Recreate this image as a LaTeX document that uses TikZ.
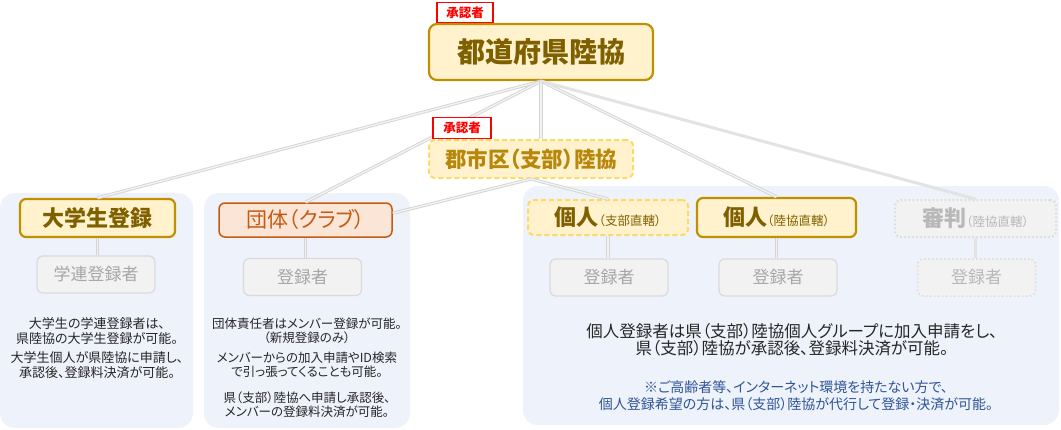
\documentclass[tikz,border=0pt]{standalone}
\usepackage{fontspec}
\setmainfont{Noto Sans CJK JP}[RawFeature=+palt]

\definecolor{goldline}{HTML}{BF9000}
\definecolor{goldfill}{HTML}{FFF2CC}
\definecolor{goldtext}{HTML}{7F6000}
\definecolor{dashgold}{HTML}{FFD966}
\definecolor{shibutext}{HTML}{B8860B}
\definecolor{orgline}{HTML}{C55A11}
\definecolor{orgfill}{HTML}{FBE5D6}
\definecolor{grayfill}{HTML}{F2F2F2}
\definecolor{grayline}{HTML}{DADADA}
\definecolor{graytext}{HTML}{A6A6A6}
\definecolor{panelbg}{HTML}{EEF2FA}
\definecolor{notetext}{HTML}{2F5597}
\definecolor{linkgray}{HTML}{D4D4D4}

\tikzset{
  unitbox/.style={rounded corners=6pt, align=center, inner sep=0pt},
  goldbox/.style={unitbox, draw=goldline, fill=goldfill, text=goldtext, line width=2.2pt},
  shibubox/.style={unitbox, draw=dashgold, fill=goldfill, dashed, dash pattern=on 5pt off 3pt, line width=2pt},
  clubbox/.style={unitbox, draw=orgline, fill=orgfill, text=orgline, line width=1.5pt},
  regbox/.style={unitbox, draw=grayline, fill=grayfill, text=graytext, line width=1.2pt,
    minimum width=118pt, minimum height=37pt, font=\fontsize{17}{20}\selectfont},
  judgebox/.style={unitbox, draw=grayline, fill=grayfill, text=graytext!80, line width=2pt,
    dash pattern=on 1.5pt off 2.5pt},
  redtag/.style={draw=red, line width=1.8pt, fill=white, text=red, inner sep=0pt,
    font=\fontsize{12.5}{14}\selectfont\bfseries},
  note/.style={align=center, inner sep=0pt, text=black!85},
  link/.style={draw=linkgray, line width=0.9pt, double=grayfill, double distance=1.4pt},
  plainlink/.style={draw=black!11, line width=3pt},
}

\newcommand{\sm}{\fontsize{12.5}{14}\selectfont}

\begin{document}
\begin{tikzpicture}[x=1pt, y=-1pt]
\useasboundingbox (0,0) rectangle (1061,429);

% panels
\fill[panelbg, rounded corners=15pt] (0,193) rectangle (193,428);
\fill[panelbg, rounded corners=15pt] (204,193) rectangle (410,428);
\fill[panelbg, rounded corners=15pt] (523,186) rectangle (1059,425);

% top
\node[goldbox, minimum width=224pt, minimum height=56pt, rounded corners=8pt,
      font=\fontsize{28}{32}\selectfont\bfseries] (kenriku) at (541,52) {都道府県陸協};
\node[shibubox, text=shibutext, minimum width=204pt, minimum height=38pt,
      font=\fontsize{21.5}{24}\selectfont\bfseries] (shibu) at (531,159) {郡市区（支部）陸協};

% units
\node[goldbox, minimum width=155pt, minimum height=38pt,
      font=\fontsize{22}{26}\selectfont\bfseries] (daigaku) at (97.5,218) {大学生登録};
\node[clubbox, minimum width=173pt, minimum height=34pt,
      font=\fontsize{21}{24}\selectfont] (dantai) at (305.5,220) {団体（クラブ）};
\node[shibubox, text=goldtext, minimum width=160pt, minimum height=35pt,
      font=\fontsize{22}{24}\selectfont\bfseries] (kojinS) at (608,217.5) {個人{\sm\mdseries（支部直轄）}};
\node[goldbox, minimum width=159pt, minimum height=39pt,
      font=\fontsize{22}{24}\selectfont\bfseries] (kojinR) at (776.5,217.5) {個人{\sm\mdseries（陸協直轄）}};
\node[judgebox, minimum width=161pt, minimum height=37pt,
      font=\fontsize{22}{24}\selectfont\bfseries] (shinpan) at (975.5,218.5) {審判{\sm\mdseries（陸協直轄）}};

% registrants
\node[regbox] (regA) at (96,274.5) {学連登録者};
\node[regbox] (regB) at (302.5,277) {登録者};
\node[regbox] (regC) at (609,277.5) {登録者};
\node[regbox] (regD) at (778,277.5) {登録者};
\node[regbox, judgebox, font=\fontsize{17}{20}\selectfont, line width=1.5pt] (regE) at (976.5,277.5) {登録者};

% links
\draw[link] (kenriku.south) -- (daigaku.north);
\draw[link] (kenriku.south) -- (dantai.north);
\draw[link] (kenriku.south) -- (kenriku.south |- shibu.north);
\draw[link] (kenriku.south) -- (kojinR.north);
\draw[plainlink] (kenriku.south) -- (shinpan.north);
\draw[link] (shibu.south) -- ([yshift=-11pt]dantai.north east);
\draw[link] (shibu.south) -- (kojinS.north);
\draw[link] (daigaku.south) -- (daigaku.south |- regA.north);
\draw[link] (dantai.south) -- (dantai.south |- regB.north);
\draw[link] (kojinS.south) -- (kojinS.south |- regC.north);
\draw[link] (kojinR.south) -- (kojinR.south |- regD.north);
\draw[plainlink, line width=2.5pt] (shinpan.south) -- (shinpan.south |- regE.north);

% approval tags
\node[redtag, minimum width=56pt, minimum height=20pt] (tagA) at (465,12.5) {承認者};
\node[redtag, minimum width=58pt, minimum height=21pt] (tagB) at (462,128) {承認者};

% texts
\node[note, font=\fontsize{13}{15}\selectfont] (txtA1) at (97,331)
  {大学生の学連登録者は、\\県陸協の大学生登録が可能。};
\node[note, font=\fontsize{13}{15}\selectfont] (txtA2) at (97,365)
  {大学生個人が県陸協に申請し、\\承認後、登録料決済が可能。};
\node[note, font=\fontsize{12.5}{14}\selectfont] (txtB1) at (307,330.5)
  {団体責任者はメンバー登録が可能。\\（新規登録のみ）};
\node[note, font=\fontsize{12.5}{14}\selectfont] (txtB2) at (307,364.5)
  {メンバーからの加入申請やID検索\\で引っ張ってくることも可能。};
\node[note, font=\fontsize{12.5}{14}\selectfont] (txtB3) at (307,405)
  {県（支部）陸協へ申請し承認後、\\メンバーの登録料決済が可能。};
\node[note, font=\fontsize{16.5}{17.5}\selectfont] (txtC1) at (792,339.5)
  {個人登録者は県（支部）陸協個人グループに加入申請をし、\\県（支部）陸協が承認後、登録料決済が可能。};
\node[note, text=notetext, font=\fontsize{14}{17}\selectfont] (txtC2) at (796,395.5)
  {※ご高齢者等、インターネット環境を持たない方で、\\個人登録希望の方は、県（支部）陸協が代行して登録・決済が可能。};
\end{tikzpicture}
\end{document}
